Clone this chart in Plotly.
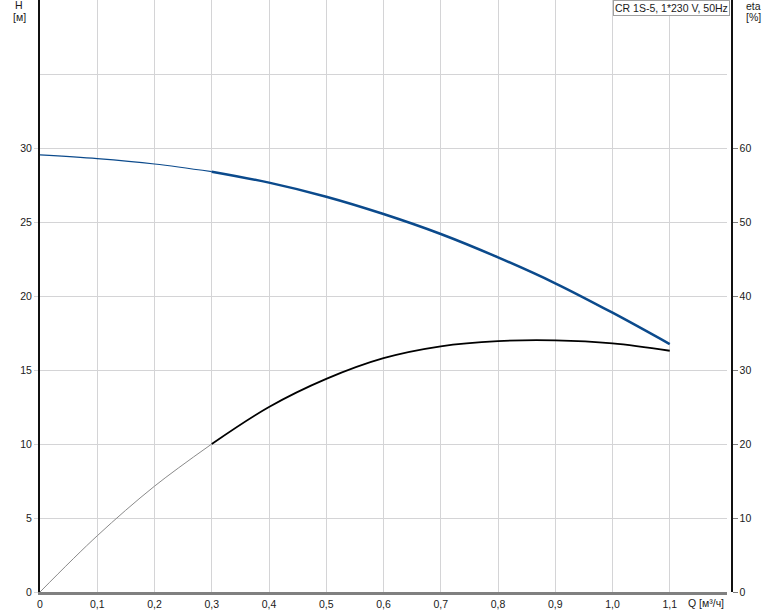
import plotly.graph_objects as go

# Data
q_values = [0.0, 0.1, 0.2, 0.3, 0.4, 0.5, 0.6, 0.7, 0.8, 0.9, 1.0, 1.1]
h_values = [29.53, 29.28, 28.92, 28.40, 27.66, 26.71, 25.54, 24.19, 22.61, 20.86, 18.87, 16.75]
eta_values = [0.0, 7.6, 14.3, 20.0, 25.0, 28.8, 31.6, 33.2, 33.9, 34.0, 33.6, 32.6]
split_index = 3  # curves drawn thin below Q=0.3, thick above

x_tickvals = [0.0, 0.1, 0.2, 0.3, 0.4, 0.5, 0.6, 0.7, 0.8, 0.9, 1.0, 1.1, 1.2]
x_ticktext = ["0", "0,1", "0,2", "0,3", "0,4", "0,5", "0,6", "0,7", "0,8", "0,9", "1,0", "1,1", ""]
h_tickvals = [0, 5, 10, 15, 20, 25, 30]
eta_tickvals = [0, 10, 20, 30, 40, 50, 60]
title_text = "CR 1S-5, 1*230 V, 50Hz"

FONT = "Liberation Sans, Arial, sans-serif"
BLUE = "#0b4a8c"
GRID = "#d4d4d6"

fig = go.Figure()

fig.add_trace(go.Scatter(x=q_values[:split_index + 1], y=h_values[:split_index + 1],
                         mode="lines", line=dict(color=BLUE, width=1.2, shape="spline"),
                         hoverinfo="skip", showlegend=False))
fig.add_trace(go.Scatter(x=q_values[split_index:], y=h_values[split_index:],
                         mode="lines", line=dict(color=BLUE, width=2.5, shape="spline"),
                         hoverinfo="skip", showlegend=False))
fig.add_trace(go.Scatter(x=q_values[:split_index + 1], y=eta_values[:split_index + 1],
                         mode="lines", line=dict(color="#8a8a8a", width=1, shape="spline"),
                         yaxis="y2", hoverinfo="skip", showlegend=False))
fig.add_trace(go.Scatter(x=q_values[split_index:], y=eta_values[split_index:],
                         mode="lines", line=dict(color="#000000", width=1.8, shape="spline"),
                         yaxis="y2", hoverinfo="skip", showlegend=False))

W, H = 774, 611
ml, mr, mt, mb = 40, 43, 0, 19
pw = W - ml - mr
ph = H - mt - mb

def px_x(x):
    return (x - ml) / pw

def px_y(y):
    return 1 - (y - mt) / ph

fig.update_layout(
    width=W, height=H,
    margin=dict(l=ml, r=mr, t=mt, b=mb, pad=0, autoexpand=False),
    paper_bgcolor="white", plot_bgcolor="white",
    separators=", ",
    font=dict(family=FONT, size=10.5, color="#1a1a1a"),
    showlegend=False,
    xaxis=dict(
        domain=[0, px_x(727)],
        range=[0, 1.2],
        tickvals=x_tickvals, ticktext=x_ticktext,
        showgrid=True, gridcolor=GRID, gridwidth=1,
        showline=True, linecolor="#808080", linewidth=3,
        ticks="", zeroline=False, fixedrange=True,
        anchor="y", automargin=False,
    ),
    yaxis=dict(
        range=[0, 40],
        tickvals=h_tickvals,
        showgrid=True, gridcolor=GRID, gridwidth=1,
        minor=dict(tickvals=[35], showgrid=True, gridcolor=GRID, gridwidth=1, ticks=""),
        showline=True, linecolor="#111111", linewidth=2,
        ticks="outside", ticklen=4, tickcolor=GRID, tickwidth=1,
        zeroline=False, fixedrange=True, automargin=False,
    ),
    yaxis2=dict(
        range=[0, 80],
        tickvals=eta_tickvals,
        overlaying="y", side="right", anchor="free", position=1,
        showgrid=False,
        showline=True, linecolor="#111111", linewidth=1.5,
        ticks="outside", ticklen=5, tickcolor="#808080", tickwidth=1,
        zeroline=False, fixedrange=True, automargin=False,
    ),
    annotations=[
        dict(text=title_text, xref="paper", yref="paper", x=px_x(729.5), y=1,
             xanchor="right", yanchor="top", showarrow=False,
             bordercolor="#a0a0a0", borderwidth=1, borderpad=1, bgcolor="white",
             font=dict(family=FONT, size=10.5, color="#1a1a1a")),
        dict(text="H", xref="paper", yref="paper", x=px_x(19), y=px_y(5),
             xanchor="center", yanchor="middle", showarrow=False),
        dict(text="[м]", xref="paper", yref="paper", x=px_x(19), y=px_y(17),
             xanchor="center", yanchor="middle", showarrow=False),
        dict(text="eta", xref="paper", yref="paper", x=px_x(754), y=px_y(5.5),
             xanchor="center", yanchor="middle", showarrow=False),
        dict(text="[%]", xref="paper", yref="paper", x=px_x(754), y=px_y(17),
             xanchor="center", yanchor="middle", showarrow=False),
        dict(text="Q [м³/ч]", xref="paper", yref="paper", x=px_x(726), y=px_y(603),
             xanchor="right", yanchor="middle", showarrow=False),
    ],
)

fig.write_html("out.html", config={"displayModeBar": False, "staticPlot": True},
               post_script="document.body.style.margin='0';document.body.style.padding='0';")
